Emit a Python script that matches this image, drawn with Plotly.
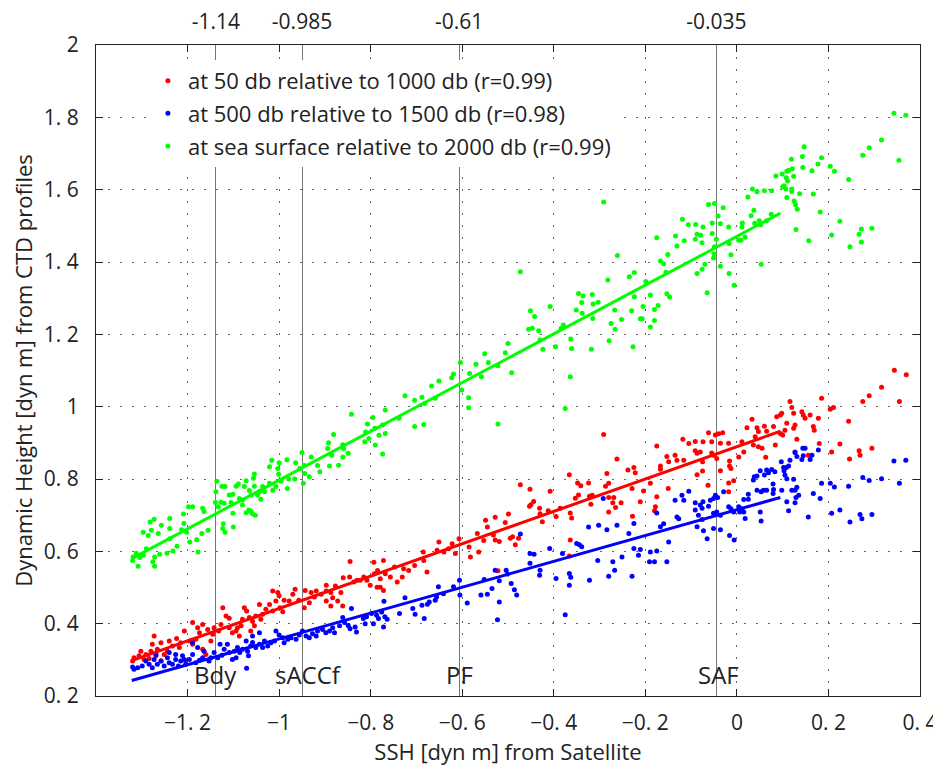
import plotly.graph_objects as go

# ---------------- data ----------------
series_names = [
    "at 50 db relative to 1000 db (r=0.99)",
    "at 500 db relative to 1500 db (r=0.98)",
    "at sea surface relative to 2000 db (r=0.99)",
]
series_colors = ["#ff0000", "#0000ff", "#00ff00"]

red_pts = [
    (-0.860,0.527),(-0.877,0.504),(-0.897,0.506),(-0.897,0.490),(-0.887,0.486),(-0.883,0.472),(-0.865,0.486),
    (-0.872,0.463),(-0.861,0.449),(-0.887,0.449),(-0.897,0.463),(-0.908,0.481),(-0.919,0.490),(-0.923,0.474),
    (-0.930,0.486),(-0.943,0.492),(-0.934,0.458),(-0.945,0.444),(-0.957,0.465),(-0.965,0.495),(-0.970,0.481),
    (-0.978,0.463),(-0.989,0.465),(-1.000,0.477),(-1.003,0.486),(-1.014,0.490),(-1.007,0.463),(-0.998,0.444),
    (-0.992,0.433),(-1.014,0.435),(-1.021,0.453),(-1.029,0.440),(-1.036,0.426),(-1.043,0.453),(-1.040,0.412),
    (-1.051,0.421),(-1.058,0.407),(-1.054,0.394),(-1.062,0.380),(-1.065,0.417),(-1.071,0.435),(-1.076,0.444),
    (-1.080,0.412),(-1.083,0.394),(-1.091,0.389),(-1.094,0.380),(-1.087,0.366),(-1.102,0.375),(-1.109,0.389),
    (-1.109,0.415),(-1.116,0.421),(-1.123,0.444),(-1.127,0.398),(-1.132,0.380),(-1.142,0.389),(-1.145,0.371),
    (-1.149,0.352),(-1.156,0.384),(-1.167,0.398),(-1.174,0.375),(-1.182,0.357),(-1.189,0.343),(-1.196,0.352),
    (-1.207,0.380),(-1.215,0.347),(-1.218,0.334),(-1.224,0.359),(-1.233,0.338),(-1.240,0.352),(-1.244,0.324),
    (-1.251,0.315),(-1.258,0.347),(-1.258,0.297),(-1.266,0.329),(-1.269,0.311),(-1.273,0.366),(-1.277,0.343),
    (-1.280,0.324),(-1.284,0.304),(-1.291,0.315),(-1.295,0.301),(-1.302,0.324),(-1.306,0.311),(-1.317,0.306),
    (-1.320,0.297),(-1.189,0.403),(-1.178,0.389),(-1.167,0.329),(-1.160,0.315),(-1.204,0.297),
    (-0.845,0.572),(-0.846,0.529),(-0.837,0.515),(-0.830,0.520),(-0.823,0.520),(-0.815,0.529),(-0.808,0.520),
    (-0.801,0.506),(-0.793,0.570),(-0.792,0.538),(-0.785,0.547),(-0.779,0.524),(-0.772,0.575),(-0.768,0.538),
    (-0.772,0.492),(-0.779,0.501),(-0.786,0.501),(-0.757,0.529),(-0.748,0.557),(-0.742,0.515),(-0.731,0.529),
    (-0.728,0.552),(-0.717,0.547),(-0.704,0.561),(-0.685,0.598),(-0.684,0.575),(-0.677,0.543),(-0.655,0.603),
    (-0.651,0.626),(-0.640,0.598),(-0.630,0.607),(-0.622,0.621),(-0.615,0.594),(-0.607,0.635),(-0.585,0.612),
    (-0.582,0.584),(-0.567,0.649),(-0.564,0.598),(-0.553,0.630),(-0.545,0.667),(-0.549,0.686),
    (-0.532,0.645),(-0.528,0.631),(-0.519,0.627),(-0.528,0.694),(-0.506,0.680),(-0.499,0.703),(-0.495,0.636),
    (-0.490,0.640),(-0.484,0.618),(-0.477,0.636),(-0.473,0.784),(-0.452,0.772),(-0.450,0.729),(-0.444,0.738),
    (-0.453,0.725),(-0.431,0.719),(-0.430,0.704),(-0.425,0.682),(-0.412,0.712),(-0.408,0.766),(-0.395,0.696),
    (-0.386,0.719),(-0.366,0.812),(-0.364,0.706),(-0.361,0.692),(-0.353,0.747),(-0.346,0.756),(-0.348,0.789),
    (-0.341,0.781),(-0.324,0.789),(-0.322,0.752),(-0.364,0.631),(-0.366,0.587),(-0.522,0.546),
    (-0.291,0.923),(-0.262,0.855),(-0.284,0.815),(-0.238,0.825),(-0.225,0.832),(-0.222,0.817),(-0.280,0.788),
    (-0.287,0.780),(-0.316,0.755),(-0.319,0.730),(-0.280,0.749),(-0.269,0.749),(-0.271,0.734),(-0.253,0.734),
    (-0.280,0.709),(-0.265,0.721),(-0.229,0.774),(-0.228,0.697),(-0.189,0.788),(-0.211,0.737),(-0.204,0.767),
    (-0.178,0.723),(-0.175,0.751),(-0.180,0.712),(-0.167,0.827),(-0.167,0.836),(-0.149,0.848),(-0.150,0.774),
    (-0.175,0.891),(-0.153,0.862),(-0.135,0.866),(-0.131,0.852),(-0.118,0.910),(-0.116,0.852),(-0.105,0.898),
    (-0.091,0.904),(-0.091,0.878),(-0.087,0.871),(-0.080,0.875),(-0.074,0.903),(-0.075,0.848),(-0.087,0.812),
    (-0.075,0.822),(-0.063,0.783),(-0.062,0.928),(-0.055,0.903),(-0.055,0.872),(-0.051,0.866),(-0.047,0.922),
    (-0.040,0.925),(-0.036,0.899),(-0.031,0.928),(-0.044,0.857),(-0.036,0.823),(-0.018,0.899),(-0.016,0.850),
    (-0.016,0.836),(-0.013,0.829),(-0.018,0.789),(-0.007,0.795),(-0.018,0.765),(0.004,0.861),(0.011,0.903),
    (0.015,0.875),(0.022,0.942),(0.033,0.965),(0.044,0.942),(0.047,0.931),(0.040,0.917),(0.036,0.894),
    (0.047,0.889),(0.055,0.885),(0.063,0.860),(0.060,0.946),(0.065,0.932),(0.080,0.945),(0.084,0.894),
    (0.087,0.972),(0.095,0.977),(0.098,0.982),(0.095,0.926),(0.100,0.922),(0.105,0.935),(0.109,0.954),
    (0.116,1.014),(0.120,0.998),(0.124,0.982),(0.127,0.949),(0.124,0.940),(0.131,0.910),(0.127,0.875),
    (0.142,0.986),(0.145,0.977),(0.149,0.968),(0.160,0.977),(0.167,0.945),(0.169,0.935),(0.178,0.968),
    (0.156,0.866),(0.180,0.898),(0.185,1.023),(0.204,0.993),(0.211,0.998),(0.207,0.875),(0.225,0.897),
    (0.244,0.960),(0.246,0.855),(0.267,0.878),(0.269,0.866),(0.275,1.014),(0.289,1.030),(0.295,0.885),
    (0.316,1.054),(0.355,1.014),(0.344,1.101),(0.370,1.088),
]

blue_pts = [
    (-0.861,0.417),(-0.857,0.403),(-0.868,0.394),(-0.883,0.389),(-0.890,0.380),(-0.879,0.375),(-0.898,0.375),
    (-0.905,0.384),(-0.916,0.380),(-0.927,0.372),(-0.919,0.366),(-0.934,0.361),(-0.941,0.366),(-0.949,0.380),
    (-0.956,0.369),(-0.963,0.357),(-0.974,0.361),(-0.981,0.357),(-0.989,0.347),(-0.992,0.361),(-1.000,0.369),
    (-1.007,0.380),(-1.010,0.352),(-1.018,0.347),(-1.025,0.338),(-1.032,0.352),(-1.036,0.334),(-1.043,0.343),
    (-1.051,0.334),(-1.058,0.348),(-1.062,0.338),(-1.069,0.324),(-1.067,0.311),(-1.072,0.352),(-1.080,0.329),
    (-1.086,0.320),(-1.091,0.334),(-1.098,0.324),(-1.102,0.301),(-1.094,0.306),(-1.109,0.320),(-1.113,0.343),
    (-1.120,0.329),(-1.125,0.313),(-1.134,0.306),(-1.142,0.320),(-1.149,0.306),(-1.153,0.297),(-1.164,0.324),
    (-1.167,0.306),(-1.174,0.299),(-1.182,0.292),(-1.189,0.315),(-1.196,0.301),(-1.204,0.288),(-1.207,0.301),
    (-1.215,0.297),(-1.220,0.283),(-1.226,0.301),(-1.233,0.288),(-1.240,0.292),(-1.244,0.306),(-1.251,0.283),
    (-1.258,0.297),(-1.266,0.288),(-1.273,0.301),(-1.277,0.278),(-1.284,0.288),(-1.291,0.297),(-1.299,0.283),
    (-1.309,0.278),(-1.317,0.274),(-1.320,0.280),(-1.071,0.277),(-1.129,0.343),(-1.178,0.334),(-1.189,0.348),
    (-1.226,0.315),(-1.269,0.315),(-1.240,0.320),(-1.211,0.311),(-1.043,0.375),(-1.058,0.366),
    (-0.849,0.395),(-0.845,0.386),(-0.834,0.391),(-0.831,0.377),(-0.842,0.442),(-0.816,0.414),(-0.812,0.400),
    (-0.809,0.419),(-0.798,0.428),(-0.794,0.400),(-0.787,0.423),(-0.783,0.414),(-0.776,0.432),(-0.772,0.391),
    (-0.769,0.419),(-0.771,0.462),(-0.764,0.412),(-0.737,0.428),(-0.725,0.472),(-0.708,0.442),(-0.703,0.426),
    (-0.688,0.451),(-0.683,0.414),(-0.676,0.454),(-0.672,0.460),(-0.659,0.465),(-0.656,0.474),(-0.652,0.502),
    (-0.641,0.483),(-0.619,0.502),(-0.606,0.520),(-0.605,0.479),(-0.589,0.457),(-0.559,0.479),(-0.552,0.522),
    (-0.545,0.481),(-0.535,0.497),(-0.528,0.548),(-0.519,0.519),(-0.519,0.460),(-0.523,0.411),(-0.504,0.548),
    (-0.501,0.537),(-0.493,0.511),(-0.486,0.494),(-0.481,0.479),(-0.473,0.648),(-0.452,0.594),(-0.443,0.592),
    (-0.452,0.567),(-0.430,0.548),(-0.431,0.534),(-0.409,0.608),(-0.395,0.525),(-0.381,0.594),(-0.375,0.425),
    (-0.366,0.539),(-0.363,0.528),(-0.366,0.506),(-0.350,0.622),(-0.344,0.618),(-0.339,0.613),(-0.324,0.667),
    (-0.322,0.520),
    (-0.292,0.746),(-0.302,0.672),(-0.304,0.575),(-0.284,0.660),(-0.280,0.531),(-0.271,0.571),(-0.267,0.548),
    (-0.262,0.672),(-0.251,0.584),(-0.236,0.649),(-0.229,0.531),(-0.225,0.677),(-0.225,0.608),(-0.211,0.605),
    (-0.215,0.589),(-0.189,0.598),(-0.191,0.571),(-0.180,0.571),(-0.175,0.601),(-0.175,0.706),(-0.167,0.668),
    (-0.160,0.676),(-0.153,0.571),(-0.149,0.626),(-0.135,0.741),(-0.131,0.695),(-0.127,0.690),(-0.120,0.755),
    (-0.116,0.741),(-0.105,0.766),(-0.091,0.734),(-0.091,0.714),(-0.084,0.700),(-0.087,0.668),(-0.080,0.728),
    (-0.076,0.719),(-0.074,0.737),(-0.076,0.688),(-0.073,0.657),(-0.065,0.635),(-0.062,0.725),(-0.058,0.741),
    (-0.051,0.746),(-0.047,0.755),(-0.051,0.705),(-0.051,0.663),(-0.044,0.709),(-0.042,0.749),(-0.036,0.700),
    (-0.036,0.660),(-0.029,0.765),(-0.018,0.723),(-0.016,0.644),(-0.013,0.718),(-0.006,0.631),(-0.007,0.709),
    (0.004,0.723),(0.006,0.709),(0.011,0.718),(0.015,0.709),(0.018,0.691),(0.015,0.743),(0.025,0.744),
    (0.025,0.758),(0.036,0.797),(0.038,0.806),(0.044,0.808),(0.044,0.769),(0.051,0.823),(0.053,0.765),
    (0.051,0.709),(0.053,0.684),(0.058,0.769),(0.060,0.811),(0.065,0.825),(0.065,0.769),(0.069,0.817),
    (0.076,0.826),(0.079,0.786),(0.080,0.771),(0.079,0.760),(0.083,0.820),(0.097,0.848),(0.098,0.769),
    (0.102,0.832),(0.103,0.823),(0.105,0.811),(0.108,0.832),(0.109,0.801),(0.113,0.836),(0.116,0.852),
    (0.109,0.737),(0.113,0.712),(0.120,0.769),(0.124,0.799),(0.127,0.769),(0.129,0.749),(0.127,0.734),
    (0.131,0.777),(0.135,0.755),(0.127,0.873),(0.131,0.862),(0.142,0.854),(0.144,0.885),(0.149,0.885),
    (0.145,0.864),(0.160,0.854),(0.164,0.866),(0.156,0.695),(0.167,0.760),(0.178,0.880),(0.182,0.746),
    (0.185,0.788),(0.204,0.788),(0.207,0.705),(0.213,0.778),(0.225,0.714),(0.244,0.780),(0.247,0.681),
    (0.269,0.702),(0.273,0.690),(0.275,0.804),(0.289,0.796),(0.295,0.702),(0.316,0.801),(0.343,0.850),
    (0.355,0.788),(0.369,0.852),
]

green_pts = [
    (0.343,1.811),(0.369,1.806),(0.316,1.737),(0.289,1.716),(0.275,1.695),(0.354,1.681),(0.244,1.628),
    (0.147,1.719),(0.143,1.692),(0.119,1.684),(0.185,1.688),(0.177,1.671),(0.144,1.661),(0.164,1.652),
    (0.204,1.665),(0.213,1.651),(0.121,1.658),(0.113,1.654),(0.109,1.651),(0.099,1.643),(0.085,1.638),
    (0.124,1.637),(0.108,1.633),(0.111,1.624),(0.103,1.611),(0.100,1.608),(0.107,1.602),(0.120,1.602),
    (0.120,1.595),(0.137,1.589),(0.167,1.588),(0.109,1.578),(0.125,1.569),(0.128,1.558),(0.132,1.546),
    (0.182,1.538),(0.225,1.513),(0.207,1.475),(0.247,1.442),(0.272,1.491),(0.267,1.477),(0.295,1.493),
    (0.272,1.455),(0.129,1.490),(0.157,1.459),(0.076,1.597),(0.060,1.597),(0.044,1.594),(0.034,1.602),
    (0.024,1.580),(0.075,1.532),(0.065,1.514),(0.052,1.503),(0.049,1.514),(0.037,1.543),(0.031,1.528),
    (0.039,1.507),(0.012,1.508),(0.011,1.497),(0.018,1.469),(0.009,1.460),(0.004,1.460),(-0.013,1.420),
    (-0.018,1.497),(-0.017,1.451),(0.053,1.394),(-0.006,1.336),(-0.017,1.368),(-0.036,1.388),(-0.049,1.562),
    (-0.062,1.559),(-0.030,1.550),(-0.041,1.527),(-0.036,1.506),(-0.054,1.508),(-0.054,1.479),(-0.045,1.463),
    (-0.049,1.442),(-0.050,1.423),(-0.051,1.411),(-0.070,1.394),(-0.076,1.380),(-0.087,1.368),(-0.065,1.315),
    (-0.119,1.518),(-0.106,1.503),(-0.090,1.504),(-0.074,1.497),(-0.087,1.477),(-0.079,1.474),(-0.091,1.463),
    (-0.076,1.453),(-0.115,1.459),(-0.134,1.472),(-0.131,1.444),(-0.175,1.467),(-0.151,1.421),(-0.167,1.403),
    (-0.160,1.395),(-0.155,1.372),(-0.199,1.346),(-0.189,1.309),(-0.153,1.312),(-0.147,1.303),(-0.172,1.280),
    (-0.180,1.269),(-0.205,1.277),(-0.207,1.243),(-0.180,1.238),(-0.189,1.220),
    (-0.291,1.566),(-0.473,1.373),(-0.261,1.418),(-0.282,1.350),(-0.235,1.359),(-0.224,1.371),(-0.224,1.304),
    (-0.346,1.313),(-0.336,1.306),(-0.339,1.288),(-0.316,1.310),(-0.303,1.289),(-0.314,1.284),(-0.351,1.267),
    (-0.338,1.258),(-0.267,1.267),(-0.315,1.244),(-0.275,1.230),(-0.266,1.214),(-0.252,1.241),(-0.230,1.265),
    (-0.211,1.243),(-0.279,1.182),(-0.227,1.166),(-0.408,1.277),(-0.451,1.265),(-0.442,1.249),(-0.455,1.214),
    (-0.447,1.217),(-0.433,1.210),(-0.430,1.184),(-0.424,1.159),(-0.396,1.166),(-0.379,1.226),(-0.384,1.217),
    (-0.363,1.187),(-0.361,1.161),(-0.318,1.159),(-0.364,1.083),(-0.375,0.995),(-0.500,1.175),(-0.492,1.094),
    (-0.506,1.149),(-0.522,1.113),(-0.551,1.146),(-0.543,1.122),(-0.558,1.083),(-0.570,1.117),(-0.584,1.092),
    (-0.604,1.122),(-0.601,1.046),(-0.586,1.025),(-0.586,0.997),(-0.619,1.090),(-0.623,1.080),(-0.651,1.071),
    (-0.667,1.057),(-0.688,1.026),(-0.682,1.009),(-0.659,1.023),(-0.704,1.018),(-0.725,1.030),(-0.738,0.968),
    (-0.684,0.951),(-0.704,0.945),(-0.522,0.952),(-0.768,0.991),(-0.774,0.949),(-0.768,0.926),
    (-0.795,0.970),(-0.811,0.930),(-0.813,0.903),(-0.804,0.912),(-0.790,0.894),(-0.782,0.921),(-0.791,0.940),
    (-0.807,0.952),(-0.842,0.979),(-0.861,0.895),(-0.859,0.884),(-0.881,0.923),(-0.892,0.900),(-0.894,0.884),
    (-0.885,0.866),(-0.861,0.861),(-0.849,0.871),(-0.870,0.838),(-0.890,0.836),(-0.911,0.820),(-0.916,0.837),
    (-0.930,0.861),(-0.950,0.873),(-0.945,0.837),(-0.955,0.829),(-0.944,0.815),(-0.947,0.788),(-0.934,0.806),
    (-0.964,0.845),(-0.966,0.800),(-0.979,0.800),(-0.982,0.774),(-0.983,0.853),(-1.000,0.845),(-1.003,0.829),
    (-1.016,0.852),(-1.021,0.834),(-1.001,0.813),(-0.996,0.794),(-1.007,0.779),(-1.014,0.769),(-1.021,0.788),
    (-1.036,0.779),(-1.032,0.765),(-1.043,0.765),(-1.047,0.756),(-1.040,0.744),(-1.054,0.814),(-1.056,0.802),
    (-1.054,0.780),(-1.072,0.795),(-1.076,0.779),(-1.065,0.768),(-1.061,0.756),(-1.080,0.742),(-1.087,0.746),
    (-1.101,0.758),(-1.109,0.756),(-1.094,0.780),(-1.089,0.786),(-1.105,0.735),(-1.080,0.728),(-1.066,0.714),
    (-1.061,0.710),(-1.058,0.703),(-1.052,0.700),(-1.072,0.707),(-1.101,0.705),(-1.120,0.733),(-1.125,0.780),
    (-1.118,0.779),(-1.136,0.794),(-1.138,0.765),(-1.139,0.735),(-1.133,0.723),(-1.127,0.736),(-1.167,0.719),
    (-1.164,0.710),(-1.198,0.723),(-1.189,0.723),(-1.209,0.703),(-1.239,0.691),(-1.273,0.689),(-0.774,0.869),
    (-1.282,0.681),(-1.257,0.672),(-1.239,0.663),(-1.279,0.658),(-1.264,0.649),(-1.286,0.644),(-1.297,0.653),
    (-1.208,0.677),(-1.213,0.660),(-1.202,0.653),(-1.195,0.626),(-1.239,0.635),(-1.180,0.632),(-1.169,0.649),
    (-1.155,0.658),(-1.177,0.598),(-1.223,0.614),(-1.232,0.601),(-1.245,0.595),(-1.261,0.592),(-1.272,0.584),
    (-1.276,0.571),(-1.272,0.559),(-1.290,0.607),(-1.297,0.589),(-1.304,0.583),(-1.319,0.584),(-1.320,0.575),
    (-1.308,0.559),(-1.312,0.595),(-1.122,0.676),(-1.123,0.663),(-1.100,0.667),(-1.118,0.653),
]

# regression lines (end points)
fit_x = [-1.322, 0.095]
red_fit_y = [0.298, 0.932]
blue_fit_y = [0.243, 0.749]
green_fit_y = [0.580, 1.535]

# front positions (top axis) and labels
front_pos = [-1.138, -0.950, -0.607, -0.045]
front_top_labels = ["-1.14", "-0.985", "-0.61", "-0.035"]
front_names = ["Bdy", "sACCf", "PF", "SAF"]
front_name_x = [-1.140, -0.935, -0.605, -0.041]
front_name_y = 0.26

x_ticks = [-1.2, -1.0, -0.8, -0.6, -0.4, -0.2, 0.0, 0.2, 0.4]
x_tick_labels = ["\u22121. 2", "\u22121", "\u22120. 8", "\u22120. 6", "\u22120. 4", "\u22120. 2", "0", "0. 2", "0. 4"]
y_ticks = [0.2, 0.4, 0.6, 0.8, 1.0, 1.2, 1.4, 1.6, 1.8, 2.0]
y_tick_labels = ["0. 2", "0. 4", "0. 6", "0. 8", "1", "1. 2", "1. 4", "1. 6", "1. 8", "2"]

x_range = [-1.4, 0.4]
y_range = [0.2, 2.0]

# ---------------- figure ----------------
FONT = "Open Sans"
TXT = "#222222"

fig = go.Figure()
all_pts = [red_pts, blue_pts, green_pts]
for name, pts, col in zip(series_names, all_pts, series_colors):
    fig.add_trace(go.Scatter(
        x=[p[0] for p in pts], y=[p[1] for p in pts], mode="markers",
        marker=dict(size=5, color=col, line=dict(width=0)),
        name=name, legendgroup=name,
    ))
for fy, col in zip([red_fit_y, blue_fit_y, green_fit_y], series_colors):
    fig.add_trace(go.Scatter(x=fit_x, y=fy, mode="lines", line=dict(color=col, width=3),
                             showlegend=False, hoverinfo="skip"))
# invisible trace so the top axis (front positions) is drawn
fig.add_trace(go.Scatter(x=front_pos, y=[None] * len(front_pos), xaxis="x2", mode="markers",
                         showlegend=False, hoverinfo="skip"))

for nm, fx in zip(front_names, front_name_x):
    fig.add_annotation(x=fx, y=front_name_y, xref="x", yref="y", text=nm, showarrow=False,
                       font=dict(family=FONT, size=24, color=TXT), xanchor="center", yanchor="middle")

dot = "2px,10px"
# the page body adds an 8 px offset, so the figure is 8 px smaller on each side
fig.update_layout(
    width=933, height=772,
    margin=dict(l=88, r=21, t=37, b=84, autoexpand=False),
    plot_bgcolor="white", paper_bgcolor="white",
    font=dict(family=FONT, size=20, color=TXT),
    showlegend=True,
    legend=dict(x=0.063, y=0.977, xanchor="left", yanchor="top", bgcolor="white",
                font=dict(family=FONT, size=22, color=TXT), tracegroupgap=1,
                borderwidth=0),
    xaxis=dict(range=x_range, tickvals=x_ticks, ticktext=x_tick_labels, automargin=False,
               ticks="inside", ticklen=7, tickcolor=TXT, tickwidth=1,
               showline=True, linecolor=TXT, linewidth=1, mirror="ticks",
               showgrid=True, gridcolor="#666666", gridwidth=1, griddash=dot,
               zeroline=False, tickfont=dict(family=FONT, size=21, color=TXT),
               ticklabelstandoff=8,
               title=dict(text="SSH [dyn m] from Satellite", font=dict(family=FONT, size=22, color=TXT),
                          standoff=7)),
    xaxis2=dict(overlaying="x", side="top", range=x_range, tickvals=front_pos, automargin=False,
                ticktext=front_top_labels, ticks="", showline=False, zeroline=False,
                showgrid=True, gridcolor="#777777", gridwidth=1,
                tickfont=dict(family=FONT, size=21, color=TXT), ticklabelstandoff=11),
    yaxis=dict(range=y_range, tickvals=y_ticks, ticktext=y_tick_labels, automargin=False,
               ticks="inside", ticklen=7, tickcolor=TXT, tickwidth=1,
               showline=True, linecolor=TXT, linewidth=1, mirror="ticks",
               showgrid=True, gridcolor="#666666", gridwidth=1, griddash=dot,
               zeroline=False, tickfont=dict(family=FONT, size=21, color=TXT),
               ticklabelstandoff=12,
               title=dict(text="Dynamic Height [dyn m] from CTD profiles",
                          font=dict(family=FONT, size=22, color=TXT), standoff=8)),
)

fig.write_html("out.html")
